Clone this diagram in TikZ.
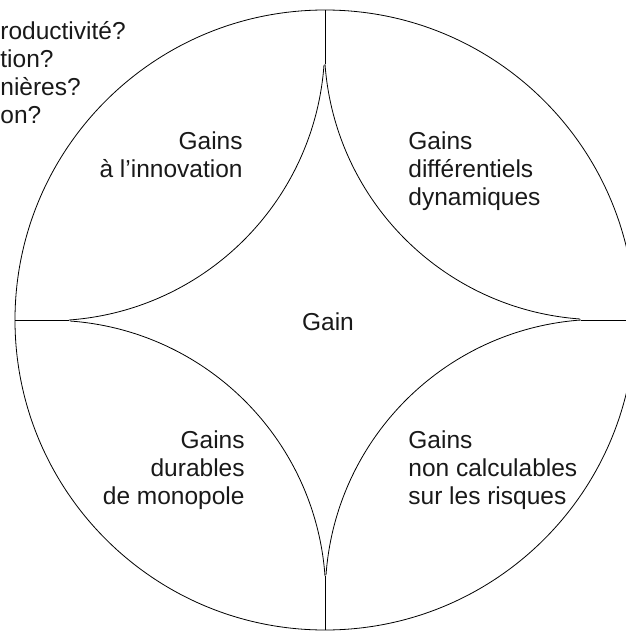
\documentclass[tikz,border=0pt]{standalone}
\usepackage{fontspec}
\setmainfont{Liberation Sans}
\usetikzlibrary{positioning}

\begin{document}
\begin{tikzpicture}[x=1pt,y=1pt,line width=0.8pt,
  lbl/.style={inner sep=0pt,font=\fontsize{24.5}{28}\selectfont,text=black!90}]
\useasboundingbox (-325,-313) rectangle (301,320);

\coordinate (o) at (0,0);
\draw (o) circle[radius=310];

% points on the circle and cusps of the star
\coordinate (w) at (-310,0);  \coordinate (cw) at (-256,0);
\coordinate (e) at (310,0);   \coordinate (ce) at (256,0);
\coordinate (n) at (0,310);   \coordinate (cn) at (0,256);
\coordinate (s) at (0,-310);  \coordinate (cs) at (0,-256);

\draw (w) -- (cw);
\draw (e) -- (ce);
\draw (n) -- (cn);
\draw (s) -- (cs);

\draw (cw) arc[start angle=-85.86,end angle=-4.14,radius=275.6];
\draw (cn) arc[start angle=184.14,end angle=265.86,radius=275.6];
\draw (ce) arc[start angle=94.14,end angle=175.86,radius=275.6];
\draw (cs) arc[start angle=4.14,end angle=85.86,radius=275.6];

\node[lbl,anchor=north east,align=right] (inno) at (-82,189) {Gains\\à l’innovation};
\node[lbl,anchor=north west,align=left] (dyn) at (83,189) {Gains\\différentiels\\dynamiques};
\node[lbl,anchor=north east,align=right] (mono) at (-80,-110) {Gains\\durables\\de monopole};
\node[lbl,anchor=north west,align=left] (risk) at (83,-110) {Gains\\non calculables\\sur les risques};
\node[lbl,anchor=base] (gain) at (3,-10) {Gain};

\node[lbl,anchor=north west,align=left] (quest) at (-325,299)
  {roductivité?\\tion?\\nières?\\on?};
\end{tikzpicture}
\end{document}
